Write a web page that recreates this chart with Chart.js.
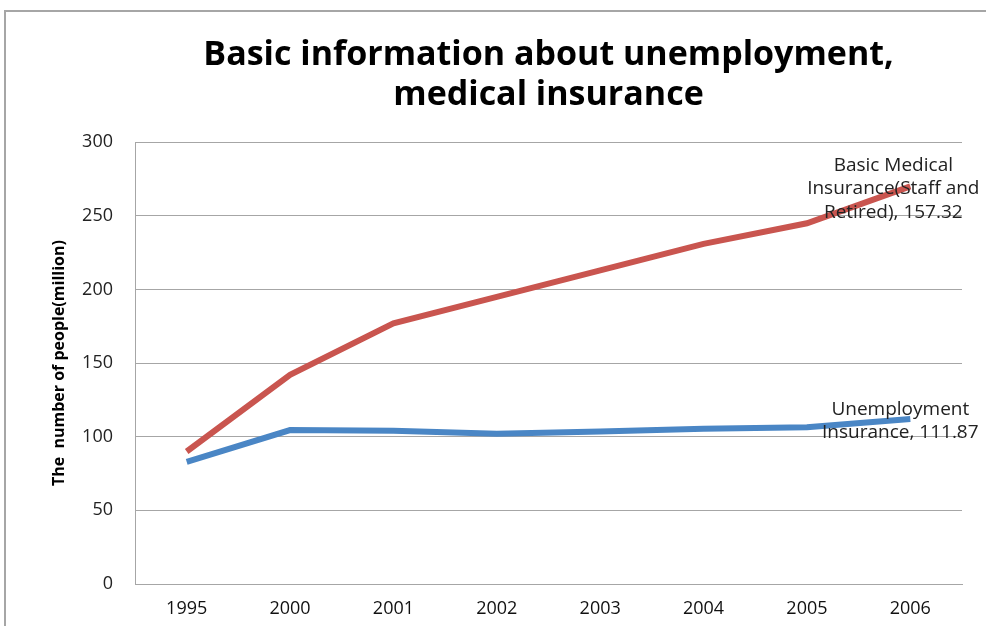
<!DOCTYPE html>
<html><head><meta charset="utf-8">
<script src="https://cdn.jsdelivr.net/npm/chart.js@4/dist/chart.umd.min.js"></script>
<style>
html,body{margin:0;padding:0;background:#fff;}
#wrap{position:relative;width:986px;height:626px;overflow:hidden;}
#frame{position:absolute;left:4px;top:10px;width:1100px;height:700px;border-top:2px solid #a6a6a6;border-left:2px solid #a6a6a6;box-sizing:border-box;}
canvas{position:absolute;left:0;top:0;}
</style></head>
<body><div id="wrap"><div id="frame"></div><canvas id="c" width="986" height="626"></canvas></div>
<script>
const categories = ["1995","2000","2001","2002","2003","2004","2005","2006"];
const medicalValues = [90, 142, 177, 195, 213, 231, 245, 270];
const unemploymentValues = [83, 104.5, 104, 102, 103.5, 105.5, 106.5, 112];
const medicalLabel = ["Basic Medical", "Insurance(Staff and", "Retired), 157.32"];
const unemploymentLabel = ["Unemployment", "Insurance, 111.87"];
const yTicks = [0, 50, 100, 150, 200, 250, 300];

const FONT = "'Open Sans', Lato, sans-serif";

const endLabels = {
  id: 'endLabels',
  afterDatasetsDraw(chart) {
    const ctx = chart.ctx;
    ctx.save();
    ctx.font = "19px " + FONT;
    ctx.fillStyle = "#222";
    ctx.textAlign = "center";
    ctx.textBaseline = "middle";
    const m = chart.getDatasetMeta(0).data[7];
    medicalLabel.forEach((t, i) => ctx.fillText(t, m.x - 17, m.y - 21 + i * 23.5));
    const u = chart.getDatasetMeta(1).data[7];
    unemploymentLabel.forEach((t, i) => ctx.fillText(t, u.x - 10, u.y - 9 + i * 23));
    ctx.restore();
  }
};

new Chart(document.getElementById('c'), {
  type: 'line',
  data: {
    labels: categories,
    datasets: [
      { label: 'Basic Medical Insurance(Staff and Retired)', data: medicalValues, borderColor: '#C9554F', borderWidth: 6, pointRadius: 0, tension: 0, fill: false },
      { label: 'Unemployment Insurance', data: unemploymentValues, borderColor: '#4A86C5', borderWidth: 6, pointRadius: 0, tension: 0, fill: false }
    ]
  },
  plugins: [endLabels],
  options: {
    responsive: false,
    animation: false,
    layout: { padding: { left: 0, right: 24, top: 0, bottom: 0 } },
    plugins: {
      legend: { display: false },
      tooltip: { enabled: false },
      title: {
        display: true,
        fullSize: false,
        text: ["Basic information about unemployment,", "medical insurance"],
        font: { family: FONT, size: 34, weight: 'bold', lineHeight: 1.18 },
        color: '#000',
        padding: { top: 35, bottom: 27 }
      }
    },
    scales: {
      x: {
        offset: true,
        grid: { display: false, drawTicks: false },
        border: { display: true, color: '#a6a6a6', width: 1 },
        ticks: { font: { family: FONT, size: 18 }, color: '#111', padding: 14 },
        afterFit(s) { s.height = 42; }
      },
      y: {
        min: 0, max: 300,
        afterBuildTicks(s) { s.ticks = yTicks.map(v => ({ value: v })); },
        grid: { color: '#a6a6a6', drawTicks: false },
        border: { display: true, color: '#a6a6a6', width: 1 },
        ticks: { font: { family: FONT, size: 18 }, color: '#222', padding: 22 },
        title: { display: true, text: 'The  number of people(million)', font: { family: FONT, size: 16, weight: 'bold' }, color: '#000', padding: { top: 50, bottom: 0 } },
        afterFit(s) { s.width = 135; }
      }
    }
  }
});
</script></body></html>
